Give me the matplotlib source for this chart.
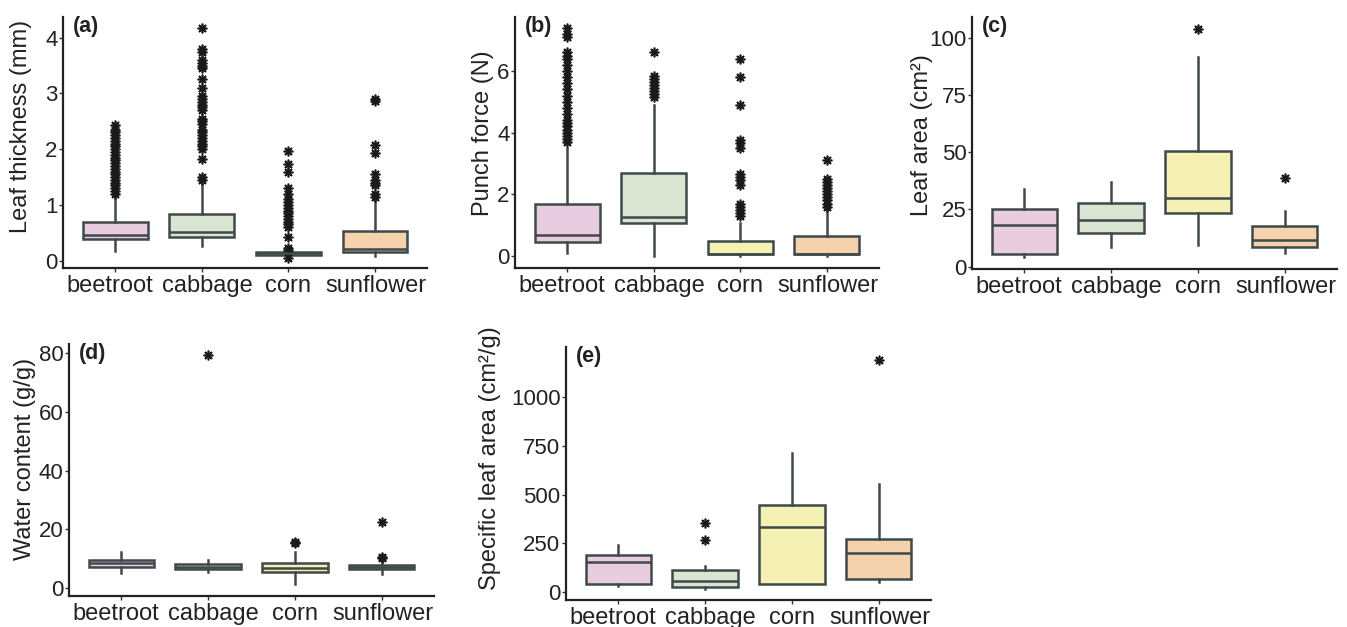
import matplotlib
matplotlib.use("Agg")
import matplotlib.pyplot as plt

plt.rcParams["font.family"] = ["Liberation Sans", "DejaVu Sans"]

# ------------------------------------------------------------
# Data
# ------------------------------------------------------------
crops = ["beetroot", "cabbage", "corn", "sunflower"]
fill_colors = ["#e8cce0", "#d9e4d3", "#f5f1b5", "#f5d2ae"]

# (a) Leaf thickness (mm)
thick_q1 = [0.39, 0.42, 0.11, 0.15]
thick_med = [0.47, 0.51, 0.13, 0.21]
thick_q3 = [0.70, 0.84, 0.15, 0.54]
thick_lo = [0.17, 0.27, 0.10, 0.08]
thick_hi = [1.15, 1.40, 0.16, 1.15]
thick_out = [
    [1.2, 1.25, 1.3, 1.35, 1.4, 1.45, 1.5, 1.55, 1.6, 1.65, 1.7, 1.75, 1.8, 1.85,
     1.9, 1.95, 2.0, 2.05, 2.1, 2.15, 2.2, 2.25, 2.3, 2.35, 2.43],
    [1.45, 1.5, 1.83, 2.0, 2.05, 2.1, 2.15, 2.2, 2.25, 2.3, 2.35, 2.45, 2.5, 2.55,
     2.7, 2.75, 2.8, 2.85, 2.9, 2.95, 3.1, 3.25, 3.45, 3.5, 3.55, 3.6, 3.75, 3.8, 4.17],
    [0.05, 0.2, 0.22, 0.42, 0.6, 0.65, 0.7, 0.75, 0.8, 0.85, 0.9, 0.95, 1.0, 1.05,
     1.1, 1.2, 1.3, 1.6, 1.73, 1.97],
    [1.15, 1.2, 1.35, 1.4, 1.45, 1.55, 1.93, 2.07, 2.87, 2.9],
]

# (b) Punch force (N)
punch_q1 = [0.46, 1.08, 0.06, 0.06]
punch_med = [0.67, 1.28, 0.08, 0.07]
punch_q3 = [1.68, 2.68, 0.48, 0.66]
punch_lo = [0.09, 0.0, 0.0, 0.0]
punch_hi = [3.49, 4.90, 1.06, 1.47]
punch_out = [
    [3.7, 3.8, 3.9, 4.0, 4.1, 4.2, 4.3, 4.4, 4.6, 4.8, 5.0, 5.2, 5.4, 5.6, 5.8,
     6.0, 6.2, 6.4, 6.5, 6.6, 7.1, 7.2, 7.4],
    [5.15, 5.25, 5.35, 5.45, 5.55, 5.65, 5.75, 5.85, 6.6],
    [1.3, 1.4, 1.5, 1.6, 1.7, 2.3, 2.45, 2.55, 2.65, 3.5, 3.65, 3.75, 4.9, 5.8, 6.4],
    [1.6, 1.7, 1.8, 1.9, 2.0, 2.1, 2.2, 2.3, 2.4, 2.5, 3.1],
]

# (c) Leaf area (cm2)
area_q1 = [5.7, 14.8, 23.3, 8.6]
area_med = [18.3, 20.2, 30.0, 11.8]
area_q3 = [25.2, 27.9, 50.7, 17.6]
area_lo = [4.1, 8.6, 9.5, 5.8]
area_hi = [33.9, 37.1, 91.6, 24.2]
area_out = [[], [], [103.8], [38.6]]

# (d) Water content (g/g)
water_q1 = [7.2, 6.3, 5.3, 6.3]
water_med = [8.4, 7.2, 6.7, 7.1]
water_q3 = [9.4, 8.1, 8.5, 7.7]
water_lo = [5.2, 5.5, 1.3, 4.7]
water_hi = [12.1, 9.4, 12.1, 8.9]
water_out = [[], [79.4], [15.3, 15.6], [10.1, 10.5, 22.4]]

# (e) Specific leaf area (cm2/g)
sla_q1 = [42.6, 25.6, 42.6, 68.0]
sla_med = [155.0, 58.0, 334.0, 199.0]
sla_q3 = [190.8, 114.0, 446.0, 272.6]
sla_lo = [32.4, 18.7, 42.6, 51.0]
sla_hi = [243.6, 134.6, 714.0, 553.7]
sla_out = [[], [267.0, 356.0], [], [1187.0]]

# ------------------------------------------------------------
# Drawing helper
# ------------------------------------------------------------
edge = "#3f4949"
W, H = 1347, 627
label_shift_pt = [-4, 4, 0, 1]  # small horizontal nudges of the category labels


def make_axes(fig, left, right, top, bottom):
    return fig.add_axes([left / W, (H - bottom) / H, (right - left) / W, (bottom - top) / H])


def boxpanel(ax, q1, med, q3, lo, hi, out, ylabel, letter, ylim, yticks, label_y):
    stats = []
    for i in range(len(crops)):
        stats.append({"q1": q1[i], "med": med[i], "q3": q3[i],
                      "whislo": lo[i], "whishi": hi[i], "fliers": out[i]})
    bp = ax.bxp(stats, positions=range(len(crops)), widths=0.75, showcaps=False,
                patch_artist=True,
                boxprops=dict(edgecolor=edge, linewidth=1.8),
                medianprops=dict(color=edge, linewidth=1.8),
                whiskerprops=dict(color=edge, linewidth=1.8),
                flierprops=dict(marker=(8, 2, 0), markersize=7,
                                markeredgecolor="#1a1a1a", markeredgewidth=1.2,
                                linestyle="none"))
    for patch, c in zip(bp["boxes"], fill_colors):
        patch.set_facecolor(c)
    ax.set_xlim(-0.6, 3.6)
    ax.set_ylim(*ylim)
    ax.set_yticks(yticks)
    ax.set_xticks(range(len(crops)))
    ax.set_xticklabels([])
    for i, (crop, dx) in enumerate(zip(crops, label_shift_pt)):
        ax.annotate(crop, xy=(i, 0), xycoords=ax.get_xaxis_transform(),
                    xytext=(dx, -5), textcoords="offset points",
                    ha="center", va="top", fontsize=17, color="#222222")
    ax.tick_params(axis="y", labelsize=16, labelcolor="#222222", length=3, width=1, color="#333333", pad=1)
    ax.tick_params(axis="x", length=3, width=1, color="#333333", pad=2)
    for s in ["top", "right"]:
        ax.spines[s].set_visible(False)
    for s in ["left", "bottom"]:
        ax.spines[s].set_linewidth(1.6)
        ax.spines[s].set_color("#222222")
    ax.set_ylabel(ylabel, fontsize=17, color="#222222")
    ax.yaxis.set_label_coords(label_y[0], label_y[1])
    ax.text(0.028, 1.005, letter, transform=ax.transAxes, fontsize=15.5,
            fontweight="bold", va="top", ha="left", color="#222222")


fig = plt.figure(figsize=(13.47, 6.27), dpi=100)

ax_a = make_axes(fig, 63, 427, 17, 268)
boxpanel(ax_a, thick_q1, thick_med, thick_q3, thick_lo, thick_hi, thick_out,
         "Leaf thickness (mm)", "(a)", (-0.13, 4.37), [0, 1, 2, 3, 4], (-0.085, 0.563))

ax_b = make_axes(fig, 515, 879, 17, 268)
boxpanel(ax_b, punch_q1, punch_med, punch_q3, punch_lo, punch_hi, punch_out,
         "Punch force (N)", "(b)", (-0.39, 7.75), [0, 2, 4, 6], (-0.058, 0.536))

ax_c = make_axes(fig, 972, 1337, 17, 269)
boxpanel(ax_c, area_q1, area_med, area_q3, area_lo, area_hi, area_out,
         "Leaf area (cm²)", "(c)", (-1.0, 109.0), [0, 25, 50, 75, 100], (-0.107, 0.53))

ax_d = make_axes(fig, 69, 434, 344, 596)
boxpanel(ax_d, water_q1, water_med, water_q3, water_lo, water_hi, water_out,
         "Water content (g/g)", "(d)", (-2.8, 83.2), [0, 20, 40, 60, 80], (-0.09, 0.544))

ax_e = make_axes(fig, 566, 931, 347, 600)
boxpanel(ax_e, sla_q1, sla_med, sla_q3, sla_lo, sla_hi, sla_out,
         "Specific leaf area (cm²/g)", "(e)", (-39, 1255), [0, 250, 500, 750, 1000], (-0.178, 0.56))

fig.savefig("out.png", dpi=100)
